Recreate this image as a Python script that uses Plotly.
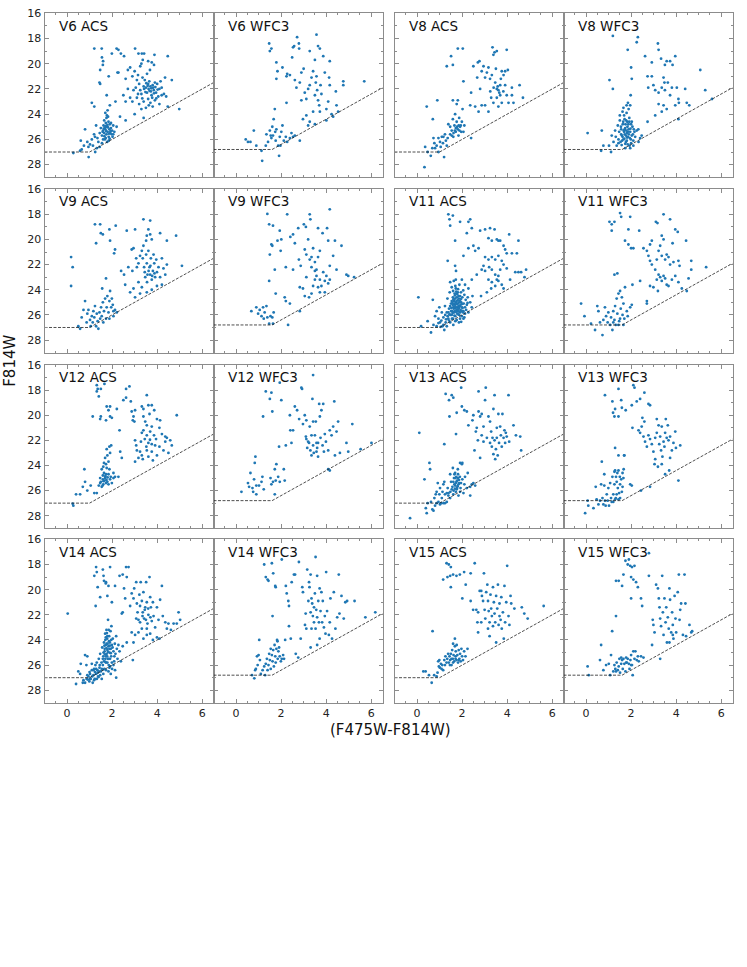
import plotly.graph_objects as go

# ---------------- data (colour, magnitude) ----------------
V6_ACS = [(1.21,18.8),(1.54,18.8),(1.55,19.5),(1.6,19.8),(1.59,20.1),(1.47,20.5),(1.44,21.5),(1.47,21.6),(1.85,21.0),
(2.2,18.8),(2.28,18.9),(1.99,19.2),(2.39,19.2),(2.53,19.4),(3.02,18.8),(3.17,19.2),(3.32,19.2),(3.42,19.2),(3.88,19.3),(4.47,19.4),(3.36,19.7),(3.76,19.9),(3.86,20.1),(2.24,20.7),(2.28,20.7),(3.6,19.8),(3.3,20.0),
(2.6,21.2),(2.7,20.5),(2.8,20.3),(2.9,21.0),(3.0,20.6),(3.1,21.3),(3.15,20.9),(3.2,21.6),(3.25,22.1),(3.3,22.4),(3.35,21.1),(3.4,21.8),(3.42,22.0),(3.5,21.9),(3.55,22.3),(3.6,21.6),(3.62,22.0),(3.65,21.4),(3.7,21.8),(3.72,22.2),(3.75,22.5),(3.8,21.7),(3.82,21.9),(3.85,22.1),(3.9,21.5),(3.95,22.3),(4.0,21.6),(4.05,22.6),(4.1,22.0),(4.2,21.9),(4.3,22.4),(4.4,22.6),(4.65,21.3),(4.98,23.6),(4.47,23.4),(3.1,22.7),(3.2,23.2),(3.4,23.0),(3.5,23.5),(3.6,22.8),(3.7,23.1),(3.8,23.4),(3.9,22.9),(4.1,23.2),(2.8,22.7),(2.9,23.0),(2.6,23.0),(2.5,22.5),(3.0,24.0),(3.4,24.3),(2.7,22.0),(3.3,23.6),(4.2,22.5),(3.05,21.9),(3.15,22.4),(3.45,21.3),(3.55,20.8),(3.68,20.5),(3.25,20.2),(4.15,21.4),(4.35,21.1),(2.95,22.1),
(3.58,21.75),(3.66,22.15),(3.74,21.95),(3.86,22.35),(3.92,21.85),(3.48,22.25),(3.78,22.7),(3.96,22.75),(3.52,21.55),(3.34,22.75),(4.02,22.05),(3.63,23.3),
(1.76,22.5),(1.9,23.3),(2.15,23.0),(1.1,23.1),(1.21,23.4),(2.35,24.2),(2.6,24.5),(1.95,24.7),(2.05,25.6),(2.2,25.0),
(0.28,27.08),(0.58,26.9),(0.65,26.8),(0.61,26.1),(0.8,25.2),(0.9,26.2),(0.96,27.4),(0.95,26.6),(1.02,26.4),(1.24,25.8),(1.32,26.7),(1.39,26.2),(1.29,24.9),(0.75,26.5),(1.1,26.0),(1.15,26.5),(1.2,25.6),(1.35,25.9),(1.45,25.5),(1.5,25.1),(1.55,25.7),(1.6,25.3),(1.62,24.9),(1.65,25.5),(1.68,26.0),(1.7,25.2),(1.72,24.7),(1.75,25.6),(1.78,25.0),(1.8,25.4),(1.82,24.2),(1.85,25.8),(1.88,25.2),(1.9,24.8),(1.92,25.5),(1.95,25.1),(2.0,25.3),(2.05,24.9),(2.1,25.4),(1.7,23.9),(1.75,24.3),(1.8,23.7),(1.55,26.3),(1.45,26.6),(1.25,27.0),(1.6,26.0),(1.85,26.1),(1.65,24.5),(1.72,25.9),(1.58,25.4),(1.78,26.2),(1.68,25.1),(2.02,25.8),
(1.74,25.35),(1.82,25.05),(1.86,25.55),(1.66,25.75),(1.79,24.85),(1.93,25.35),(1.71,24.95),(1.84,24.6),(1.77,24.1),(1.98,25.6),(1.63,25.15),(1.89,25.95)]

V6_WFC3 = [(1.47,18.4),(1.5,19.0),(1.57,18.8),(1.79,19.9),(1.84,20.6),(1.79,21.2),(2.06,20.3),(2.27,20.8),(2.49,19.5),(2.53,18.7),(2.58,18.6),(2.71,17.9),(2.79,18.4),(2.8,18.8),(3.27,19.0),(3.5,19.7),(3.57,17.7),(3.64,18.6),(3.72,18.8),(3.87,19.4),(4.16,19.8),(4.13,21.1),(4.16,21.7),(4.76,21.4),(4.76,21.7),(5.69,21.4),(4.43,22.2),
(2.24,21.0),(2.39,20.9),(2.61,21.3),(2.68,21.9),(2.83,21.5),(2.9,20.7),(3.0,20.4),(3.05,22.3),(3.12,22.8),(3.2,22.0),(3.27,21.7),(3.35,21.1),(3.42,20.6),(3.5,22.5),(3.54,21.5),(3.57,21.0),(3.6,22.1),(3.64,22.9),(3.69,23.3),(3.75,21.7),(3.79,22.4),(3.94,20.7),(4.01,23.6),(4.09,23.0),(4.24,24.0),(4.31,24.2),(4.46,23.3),(4.53,23.8),(3.42,23.8),(3.12,24.1),(3.27,24.6),(3.72,23.8),(2.24,23.1),(2.9,22.9),(2.97,24.4),(3.2,24.9),(3.5,24.8),(4.01,24.5),
(0.43,26.0),(0.53,26.2),(0.64,26.2),(0.79,25.3),(0.9,26.5),(1.13,26.9),(1.16,27.7),(1.32,26.5),(1.35,25.6),(1.42,26.2),(1.5,25.3),(1.57,25.9),(1.61,25.0),(1.64,25.7),(1.67,24.4),(1.72,23.6),(1.76,26.1),(1.79,25.2),(1.87,26.5),(1.91,27.3),(1.94,25.8),(2.01,25.4),(2.06,24.9),(2.12,26.1),(2.21,25.8),(2.27,26.2),(2.39,25.9),(2.53,25.8),(2.61,25.7),(2.83,26.1),(2.46,25.5),(1.54,25.7),(1.74,25.4),(1.97,26.5)]

V8_ACS = [(0.33,28.2),(0.43,23.4),(0.7,24.4),(0.9,22.9),(1.32,20.2),(1.51,19.4),(1.59,20.1),(1.81,18.8),(2.03,18.8),(2.06,21.4),(2.4,22.3),(2.5,20.2),(2.7,19.9),(2.77,19.8),(2.95,20.2),(2.87,20.6),(2.67,21.1),(2.8,22.0),(3.02,21.1),(3.1,20.7),(3.17,20.3),(3.24,21.2),(3.35,18.7),(3.39,19.3),(3.44,19.1),(3.54,19.0),(3.98,18.9),(3.32,20.9),(3.47,21.5),(3.54,22.0),(3.61,22.1),(3.69,21.7),(3.76,20.6),(3.84,20.9),(3.91,20.6),(4.03,20.5),(3.69,22.5),(3.76,23.1),(3.61,23.4),(3.39,23.1),(3.29,22.7),(3.02,23.3),(3.17,23.8),(2.87,23.3),(2.73,23.8),(3.98,22.5),(4.06,23.1),(4.21,22.5),(4.28,23.1),(4.21,21.9),(4.55,21.7),(4.7,22.7),(3.91,21.7),(3.54,22.7),(2.36,23.3),(2.58,23.4),(2.4,25.9),
(3.58,21.8),(3.65,22.3),(3.4,21.9),(3.72,21.2),(3.5,20.4),(3.83,22.2),(3.25,22.2),
(0.36,26.6),(0.47,27.0),(0.61,27.3),(0.73,25.9),(0.8,26.7),(0.87,26.5),(0.95,27.0),(1.02,26.2),(1.1,25.8),(1.2,27.4),(1.24,25.6),(1.32,26.5),(1.36,25.9),(1.39,24.8),(1.47,25.6),(1.54,25.3),(1.59,24.4),(1.61,25.8),(1.66,24.9),(1.69,24.0),(1.72,25.4),(1.76,24.6),(1.81,25.2),(1.84,25.7),(1.87,24.3),(1.91,25.0),(1.96,25.4),(1.99,24.6),(2.02,23.6),(2.06,25.4),(2.1,24.9),(1.81,22.9),(1.59,22.9),(1.76,23.2),(1.17,25.8),(0.95,25.9),(0.77,26.3),(0.68,26.7),(1.54,25.7),(1.72,25.1),(1.47,25.0),
(1.78,25.0),(1.88,25.3),(1.68,25.3),(1.94,24.9),(1.85,24.9),(1.62,25.5),(1.28,26.1),(1.15,26.3),(1.05,26.6)]

V8_WFC3 = [(1.19,17.8),(2.3,17.9),(2.25,18.3),(1.85,18.9),(3.19,18.4),(3.22,18.9),(2.62,19.4),(2.92,19.9),(3.33,19.6),(3.5,20.1),(3.58,19.8),(3.73,19.8),(3.96,19.4),(3.84,20.1),(2.0,20.3),(1.04,21.3),(1.19,22.0),(2.03,21.2),(2.73,21.0),(2.92,21.0),(3.44,21.1),(3.48,21.5),(3.63,21.5),(2.76,21.9),(2.99,21.7),(3.07,22.1),(3.22,22.3),(3.36,21.9),(3.5,22.1),(3.73,22.5),(3.81,21.9),(4.03,21.9),(4.1,22.8),(4.4,22.0),(5.07,20.5),(5.29,22.1),(5.59,22.8),(3.22,23.2),(3.44,23.3),(3.58,23.6),(3.07,24.1),(3.36,23.8),(3.96,23.3),(4.47,23.1),(4.58,23.3),(4.12,23.1),(2.73,24.6),(2.32,25.2),(2.47,25.7),(4.1,24.4),
(0.07,25.5),(0.7,25.3),(0.77,26.5),(0.67,26.9),(1.11,27.0),(1.02,26.5),(1.14,25.7),(1.22,26.2),(1.29,25.3),(1.32,25.8),(1.36,26.5),(1.41,24.9),(1.44,26.0),(1.47,25.4),(1.5,24.5),(1.53,26.2),(1.56,25.2),(1.59,25.7),(1.62,23.8),(1.63,24.8),(1.66,26.0),(1.69,25.4),(1.71,24.4),(1.74,25.1),(1.77,26.2),(1.8,23.3),(1.81,25.5),(1.83,24.6),(1.86,25.8),(1.89,25.2),(1.92,24.3),(1.93,26.5),(1.96,25.4),(1.98,22.5),(1.99,26.0),(2.0,24.8),(2.03,25.7),(2.06,25.0),(2.1,26.1),(2.15,25.4),(2.18,25.8),(2.25,25.3),(2.33,26.2),(2.4,25.9),(1.96,26.7),(1.74,26.7),(1.89,23.6),(1.86,23.1),(1.66,23.5),(1.5,24.1),(1.96,23.3),(1.62,25.8),(1.77,25.7),(1.71,25.2),(1.86,25.4),(1.56,25.6),(1.81,26.1),(2.03,24.6),(1.44,26.3),(2.1,26.5),
(1.72,25.6),(1.79,25.3),(1.84,25.0),(1.9,25.6),(1.67,25.3),(1.75,24.8),(1.94,25.9),(1.6,26.1),(1.88,24.8),(1.97,25.15),(1.7,25.95),(1.82,25.85),(1.55,25.0),(2.08,25.6),(1.78,24.5),(1.65,24.6),(1.92,24.6),(2.12,25.2),(1.74,26.35),(1.58,26.45),(1.85,26.4),(2.0,26.3),(1.69,24.1),(1.8,23.9)]

V9_ACS = [(0.18,21.4),(0.25,22.2),(0.18,23.7),(1.24,18.8),(1.47,18.8),(1.29,20.3),(1.5,19.5),(1.59,19.6),(1.88,19.2),(1.91,20.1),(2.16,18.9),(2.13,20.8),(2.09,21.1),(2.65,19.3),(3.02,19.2),(3.39,18.4),(3.69,18.5),(3.61,19.2),(3.69,19.6),(3.54,19.7),(3.51,20.1),(3.76,20.0),(4.13,19.5),(4.43,20.1),(4.84,19.7),(5.1,22.1),(2.4,22.5),(2.53,22.8),(2.58,23.6),(2.87,20.8),(2.95,20.7),(3.07,21.5),(3.1,22.2),(3.17,21.9),(3.24,21.3),(3.32,20.9),(3.36,21.5),(3.39,20.5),(3.42,22.2),(3.47,23.0),(3.51,21.2),(3.54,21.9),(3.57,22.8),(3.61,20.9),(3.66,22.2),(3.69,22.8),(3.72,21.5),(3.76,23.2),(3.81,22.5),(3.84,21.2),(3.87,21.9),(3.91,23.0),(3.96,21.6),(3.99,22.6),(4.06,22.2),(4.13,23.0),(4.21,21.5),(4.28,22.3),(4.36,22.8),(4.43,22.0),(3.17,23.4),(3.32,23.8),(3.54,24.2),(3.76,24.0),(3.99,23.7),(4.21,23.6),(2.95,23.9),(2.8,24.2),(3.02,24.6),(3.24,24.3),(2.9,22.5),(2.72,22.2),
(3.62,22.5),(3.78,22.9),(3.7,22.1),(3.88,22.7),(3.55,23.4),(3.45,22.6),
(0.5,26.9),(0.58,27.1),(0.65,26.2),(0.73,25.6),(0.8,24.9),(0.87,26.6),(0.9,25.9),(0.95,25.6),(1.02,26.4),(1.05,26.9),(1.1,26.1),(1.14,26.6),(1.17,25.7),(1.21,26.2),(1.24,25.3),(1.29,26.9),(1.32,25.9),(1.36,26.5),(1.39,27.1),(1.44,25.8),(1.47,26.3),(1.51,25.4),(1.54,26.1),(1.59,25.0),(1.61,26.6),(1.64,25.7),(1.69,24.7),(1.73,26.3),(1.76,25.4),(1.79,24.5),(1.84,25.8),(1.88,24.9),(1.91,24.1),(1.96,25.4),(1.99,24.7),(2.03,25.2),(1.73,23.1),(1.56,23.9),(2.06,25.7),(2.13,25.6),(2.21,25.8),(1.88,26.3),(2.06,26.1)]

V9_WFC3 = [(1.39,17.97),(1.47,18.8),(1.64,18.9),(1.5,21.2),(1.47,23.3),(1.57,20.4),(1.61,20.5),(1.72,22.4),(1.76,24.3),(1.84,20.1),(1.94,19.3),(2.01,20.0),(1.98,20.9),(2.16,24.6),(2.21,24.9),(2.21,22.2),(2.27,18.0),(2.41,19.8),(2.53,19.6),(2.53,22.4),(2.61,20.3),(2.39,25.1),(2.76,19.1),(2.79,21.6),(2.87,22.1),(3.01,18.8),(3.1,19.0),(3.27,18.0),(3.3,18.4),(3.2,20.0),(3.05,20.8),(3.12,21.2),(3.27,21.6),(3.42,20.7),(3.5,21.8),(3.35,22.2),(3.57,22.4),(3.64,21.4),(3.72,20.9),(3.64,19.1),(3.84,19.5),(4.04,19.1),(4.16,17.6),(4.09,20.1),(4.39,20.1),(4.68,20.5),(4.31,21.3),(4.16,22.1),(4.46,22.4),(4.9,22.8),(4.98,22.9),(5.24,23.0),(2.83,23.8),(2.97,23.9),(3.05,24.5),(3.24,24.6),(3.35,24.3),(3.42,23.7),(3.5,23.2),(3.57,22.9),(3.72,23.2),(3.79,23.7),(3.87,22.6),(3.94,23.3),(4.01,22.9),(4.09,23.5),(4.16,23.2),(3.72,24.2),(3.94,24.2),(3.64,23.8),(3.12,23.0),(2.83,25.7),(2.31,26.8),(3.5,22.5),(3.35,21.4),
(0.68,25.7),(0.9,25.4),(0.98,25.9),(1.05,25.6),(1.13,26.1),(1.2,25.4),(1.23,26.3),(1.27,25.8),(1.35,25.3),(1.39,26.2),(1.47,26.7),(1.53,26.1),(1.61,26.2),(1.67,25.8),(1.64,26.7)]

V11_ACS = [(1.39,18.0),(1.59,18.1),(1.44,18.4),(1.47,18.9),(1.91,18.6),(2.28,18.6),(2.36,18.4),(2.43,19.1),(2.21,19.5),(1.69,20.1),(1.36,21.7),(2.06,21.3),(2.28,20.7),(2.5,20.5),(2.58,20.9),(2.73,20.7),(2.8,19.3),(3.02,19.2),(3.24,19.1),(3.44,19.2),(3.17,19.9),(3.32,20.1),(3.54,20.0),(3.61,20.1),(3.69,20.1),(4.09,19.6),(4.5,20.1),(3.84,20.5),(3.91,20.8),(3.02,21.4),(3.17,21.6),(3.32,21.4),(3.47,21.6),(3.61,21.3),(3.76,21.7),(3.98,21.1),(4.21,21.1),(4.43,21.1),(2.87,22.4),(3.02,22.5),(3.2,22.2),(3.32,22.4),(3.47,22.8),(3.61,22.9),(3.69,22.4),(3.84,22.0),(3.98,22.3),(4.13,23.2),(4.36,22.6),(4.5,22.6),(4.62,22.6),(4.84,22.4),(4.77,23.0),(3.17,23.2),(3.32,23.4),(3.47,23.7),(3.61,23.3),(3.76,23.6),(3.84,23.9),(2.84,24.5),(3.1,24.2),(3.29,23.9),(3.54,23.2),(2.95,22.1),(2.65,22.8),(2.43,23.2),(2.28,23.9),(2.13,23.6),(1.99,23.2),(1.69,22.1),(1.73,22.5),(0.06,24.6),(0.7,24.8),
(0.18,26.9),(0.47,26.5),(0.62,27.4),(0.73,26.8),(0.8,26.1),(0.87,25.7),(0.87,26.9),(0.95,26.3),(0.99,25.4),(1.02,26.6),(1.1,25.8),(1.13,26.9),(1.17,26.2),(1.21,27.2),(1.24,25.3),(1.27,26.6),(1.32,25.8),(1.35,24.7),(1.39,26.3),(1.42,25.5),(1.45,24.2),(1.48,26.0),(1.51,25.1),(1.54,23.8),(1.56,25.7),(1.59,24.6),(1.6,26.3),(1.61,25.4),(1.63,23.3),(1.64,24.9),(1.66,25.8),(1.67,24.3),(1.69,25.2),(1.7,26.1),(1.72,23.9),(1.73,25.0),(1.75,25.6),(1.76,24.6),(1.78,25.4),(1.79,25.9),(1.81,24.2),(1.82,25.1),(1.84,25.5),(1.85,24.7),(1.87,26.0),(1.88,23.6),(1.9,25.3),(1.91,24.5),(1.93,25.6),(1.96,25.0),(1.99,25.4),(2.01,24.6),(2.04,25.8),(2.07,25.1),(2.1,24.4),(2.13,25.4),(2.16,24.8),(2.21,25.2),(2.25,24.6),(2.28,25.8),(2.36,25.0),(2.43,25.4),(2.46,24.5),(2.06,26.3),(1.91,26.3),(1.99,26.1),(1.54,26.0),(1.47,26.6),(1.61,26.8),(1.32,26.9),(1.17,26.8),(1.76,26.4),(1.51,25.7),(1.66,25.1),(1.72,25.4),(1.81,25.7),(1.87,25.0),(1.63,25.5),(1.75,24.9),(1.93,25.2),(1.59,25.2),(1.69,24.7),(1.84,25.3),(1.78,25.6),(1.67,25.7),(1.99,25.7),(1.47,25.3),(1.39,25.8),(1.91,25.8),(1.54,24.9),(2.06,25.7),(2.13,25.9),(1.84,24.5),(1.72,23.2),(1.47,23.4),
(1.7,25.45),(1.76,25.15),(1.8,24.85),(1.86,25.45),(1.74,25.75),(1.65,25.35),(1.82,25.95),(1.9,24.9),(1.62,24.75),(1.68,24.45),(1.78,24.35),(1.94,24.75),(1.98,25.15),(2.02,25.45),(1.58,25.85),(1.52,25.45),(1.44,25.95),(1.36,26.1),(1.29,26.35),(1.42,26.45),(1.55,26.3),(1.7,26.5),(1.86,26.6),(1.96,26.55),(2.1,26.2),(2.18,25.6),(2.24,25.05),(1.6,24.1),(1.7,23.7),(1.82,23.95),(1.95,24.2),(2.05,24.05),(1.08,26.45),(1.25,26.0),(0.95,26.65),(1.05,26.95),(1.66,26.05),(1.74,24.15),(1.88,25.75),(1.57,25.05)]

V11_WFC3 = [(1.04,18.6),(1.14,18.8),(1.26,18.6),(1.14,19.3),(1.51,17.9),(1.56,18.2),(1.96,18.2),(1.88,19.2),(2.36,19.3),(1.73,20.1),(1.88,20.4),(2.0,20.7),(2.1,20.7),(3.1,18.6),(3.17,18.7),(3.44,18.0),(3.73,18.4),(3.96,19.2),(4.07,19.4),(3.84,20.3),(3.36,19.7),(3.44,20.0),(2.92,20.1),(2.84,20.4),(2.55,20.7),(2.7,20.9),(2.77,21.3),(2.84,21.7),(2.92,22.0),(3.14,21.6),(3.22,20.9),(3.29,20.5),(3.36,21.3),(3.51,21.6),(3.58,21.2),(3.66,21.4),(3.73,22.0),(3.88,21.8),(4.1,21.7),(4.15,22.1),(4.44,20.1),(4.67,21.7),(4.67,22.4),(5.33,22.2),(3.07,22.4),(3.22,22.8),(3.29,23.0),(3.36,23.3),(3.44,22.9),(3.51,23.1),(3.58,23.6),(3.66,23.7),(3.81,23.2),(3.96,22.9),(4.1,23.4),(4.25,23.9),(4.47,24.1),(4.55,23.1),(2.84,23.7),(2.99,23.8),(3.14,23.2),(2.4,23.3),(2.06,23.6),(1.26,22.8),(1.39,22.7),(2.7,24.9),(2.7,25.1),(3.19,24.1),
(-0.22,25.1),(-0.07,26.1),(0.22,26.7),(0.4,27.2),(0.5,25.3),(0.55,25.7),(0.62,26.6),(0.73,27.6),(0.77,26.4),(0.84,25.4),(0.89,26.1),(0.96,26.6),(0.99,25.8),(1.07,26.8),(1.11,26.2),(1.17,27.2),(1.21,25.7),(1.26,26.4),(1.29,25.3),(1.32,26.8),(1.36,24.7),(1.39,25.9),(1.44,24.3),(1.47,26.5),(1.51,24.1),(1.54,25.5),(1.59,24.6),(1.62,26.0),(1.66,25.1),(1.7,26.3),(1.73,23.8),(1.81,25.7),(1.85,26.1),(1.96,25.4),(2.03,25.2),(1.44,26.8),(1.51,26.3),(1.66,26.8),(1.21,26.6)]

V12_ACS = [(0.25,27.05),(0.28,27.2),(0.4,26.3),(0.58,26.3),(0.7,25.7),(0.77,24.3),(0.8,25.3),(0.9,26.0),(1.05,25.6),(1.14,20.1),(1.21,26.2),(1.32,26.2),(1.32,17.6),(1.36,17.9),(1.32,18.1),(1.41,18.5),(1.47,20.3),(1.5,20.1),(1.5,17.9),(1.66,17.5),(1.73,20.4),(1.76,19.3),(1.84,19.6),(1.91,19.3),(1.91,20.1),(1.99,20.2),(2.21,19.5),(2.33,21.2),(2.62,17.9),(2.77,17.7),(2.62,18.6),(2.5,18.8),(2.83,18.9),(2.87,19.7),(2.95,20.1),(2.92,20.4),(3.02,19.6),(2.99,20.5),(3.32,19.3),(3.39,19.5),(3.54,18.4),(3.61,19.2),(3.76,19.2),(3.87,19.6),(3.66,19.9),(3.39,20.1),(3.47,20.5),(3.54,20.8),(3.39,21.2),(3.32,21.4),(3.54,21.6),(3.69,21.3),(3.76,20.9),(3.99,20.3),(4.13,20.4),(4.1,21.0),(4.21,21.5),(4.36,21.7),(4.43,21.8),(4.58,22.0),(4.65,22.4),(4.87,20.0),(3.02,22.0),(3.07,22.4),(3.1,22.8),(3.24,22.9),(3.32,23.2),(3.17,23.4),(3.02,23.7),(3.36,23.5),(3.54,22.8),(3.61,23.3),(3.76,22.9),(3.81,23.6),(3.91,22.4),(3.99,23.2),(4.1,22.5),(4.28,22.8),(4.36,22.1),(4.5,23.0),(3.61,22.2),(3.76,22.3),(2.36,22.9),(2.43,23.4),
(3.45,21.9),(3.68,21.95),(3.86,21.6),(3.52,22.5),(3.95,21.9),(3.28,22.1),
(1.76,22.7),(1.88,22.5),(1.96,22.4),(1.79,23.2),(1.91,23.0),(1.69,23.4),(1.84,23.7),(1.73,23.9),(1.61,24.1),(1.76,24.2),(1.88,24.3),(1.54,24.3),(1.64,24.6),(1.73,24.7),(1.84,24.7),(1.94,24.9),(2.06,25.0),(2.13,24.9),(1.47,25.0),(1.59,25.1),(1.69,25.0),(1.79,25.3),(1.91,25.1),(1.47,25.4),(1.61,25.5),(1.73,25.4),(1.54,25.7),(1.41,25.6),(1.84,25.5),(1.99,25.4),(2.28,24.9),(1.59,24.8),(1.67,25.2),(1.5,25.3),(2.06,24.6),(1.64,23.8),
(1.7,24.85),(1.8,24.95),(1.62,25.25),(1.75,25.15),(1.58,25.6)]

V12_WFC3 = [(0.24,26.1),(0.53,25.4),(0.58,25.7),(0.64,24.6),(0.73,25.8),(0.76,26.1),(0.8,25.1),(0.83,23.8),(0.86,23.3),(0.9,25.6),(0.9,26.3),(1.02,25.6),(1.13,25.3),(1.2,20.1),(1.17,24.9),(1.23,25.9),(1.32,18.1),(1.5,18.7),(1.57,18.2),(1.53,25.0),(1.57,25.5),(1.61,19.7),(1.64,25.3),(1.72,24.3),(1.72,26.3),(1.76,25.2),(1.79,23.9),(1.87,24.9),(1.91,22.5),(1.94,17.4),(1.94,25.3),(2.01,18.8),(2.12,24.3),(2.16,25.2),(2.21,22.4),(2.39,20.0),(2.41,21.2),(2.46,22.2),(2.53,21.2),(2.61,19.3),(2.71,19.6),(2.8,20.3),(2.9,17.8),(2.93,17.9),(2.97,20.7),(3.05,20.0),(3.1,21.7),(3.12,21.9),(3.16,22.6),(3.2,22.1),(3.24,22.2),(3.27,20.9),(3.3,22.8),(3.35,21.6),(3.39,18.7),(3.42,22.4),(3.45,23.0),(3.5,21.6),(3.54,20.5),(3.57,22.2),(3.6,22.6),(3.64,23.3),(3.69,19.1),(3.72,20.1),(3.75,21.8),(3.79,19.6),(3.84,22.4),(3.87,19.1),(3.9,22.9),(3.94,21.5),(3.99,22.1),(4.09,22.8),(4.16,21.2),(4.24,21.6),(4.31,20.9),(4.36,18.9),(4.39,23.2),(4.46,21.3),(4.53,20.5),(4.61,23.0),(4.9,22.2),(4.98,22.9),(5.16,20.7),(4.09,24.3),(4.16,24.4),(3.42,16.8),(3.42,20.5),(3.12,20.4),(5.53,22.7),(6.01,22.2),(3.57,22.9),(3.35,23.2),(3.64,22.2)]

V13_ACS = [(-0.31,28.2),(0.1,21.4),(0.33,25.1),(0.39,27.4),(0.43,27.8),(0.47,27.0),(0.55,23.8),(0.58,24.3),(0.62,26.9),(0.68,27.5),(0.73,27.6),(0.77,26.6),(0.8,27.2),(0.83,26.3),(0.87,26.1),(0.92,25.4),(0.95,26.9),(0.99,26.3),(1.02,25.8),(1.07,27.0),(1.1,26.6),(1.13,26.1),(1.17,25.5),(1.21,25.3),(1.21,22.3),(1.24,26.3),(1.27,18.3),(1.32,26.9),(1.36,25.8),(1.39,26.4),(1.42,18.8),(1.44,20.1),(1.47,24.7),(1.48,26.1),(1.51,25.3),(1.54,18.4),(1.57,25.7),(1.59,24.2),(1.61,18.6),(1.61,26.3),(1.64,25.0),(1.66,25.5),(1.69,24.6),(1.72,26.1),(1.73,21.5),(1.75,25.3),(1.76,19.8),(1.78,25.8),(1.81,24.3),(1.84,26.4),(1.87,25.4),(1.9,24.9),(1.91,23.8),(1.93,25.8),(1.96,17.8),(1.99,19.3),(2.01,25.1),(2.01,23.8),(2.06,26.2),(2.1,25.5),(2.13,24.9),(2.1,19.6),(2.21,19.7),(2.21,25.8),(2.25,24.6),(2.28,20.8),(2.36,26.4),(2.43,25.5),(2.46,20.4),(2.5,20.0),(2.55,22.8),(2.58,25.6),(2.61,21.3),(2.65,21.0),(2.7,22.0),(2.73,18.1),(2.73,19.7),(2.8,20.1),(2.8,23.4),(2.87,19.9),(2.87,21.6),(2.95,20.9),(2.95,22.1),(3.02,18.8),(3.05,17.8),(3.1,21.8),(3.17,20.1),(3.24,20.5),(3.24,22.2),(3.29,21.3),(3.32,22.5),(3.35,21.8),(3.39,19.5),(3.39,23.1),(3.44,22.0),(3.44,18.4),(3.47,23.5),(3.5,22.7),(3.54,21.0),(3.54,21.8),(3.58,23.2),(3.61,19.9),(3.64,22.2),(3.69,20.9),(3.72,21.6),(3.76,22.5),(3.79,19.9),(3.84,21.8),(3.88,21.2),(3.91,22.2),(3.94,21.4),(3.98,21.7),(4.06,18.4),(4.09,22.1),(4.28,20.8),(4.39,21.6),(4.58,21.7),(4.62,22.8),(2.5,25.4),(2.36,25.7),(1.99,23.9),(1.84,25.5),(1.69,25.6),(1.61,25.3),(1.76,25.9),(1.91,26.1),(1.54,25.9),(1.47,26.6),(1.17,27.0),(1.32,26.2),(1.24,27.0),(1.02,27.1),(0.87,27.0),(1.81,25.0),(1.66,24.7),(1.72,25.4),
(1.78,25.2),(1.86,25.15),(1.7,25.0),(1.82,24.7),(1.74,24.9),(1.68,25.85),(1.95,25.4),(1.8,25.65),(1.62,26.0),(1.4,26.2)]

V13_WFC3 = [(-0.04,27.8),(0.07,26.8),(0.1,27.2),(0.33,27.4),(0.43,25.7),(0.47,26.7),(0.55,27.1),(0.62,26.8),(0.67,25.5),(0.7,23.7),(0.73,26.6),(0.77,27.1),(0.81,25.6),(0.81,24.7),(0.84,26.8),(0.87,27.2),(0.92,26.3),(0.96,26.8),(0.99,25.8),(1.02,27.2),(1.07,25.4),(1.11,26.6),(1.14,26.9),(1.17,24.9),(1.21,26.3),(1.26,24.5),(1.26,25.5),(1.29,24.4),(1.32,26.6),(1.33,24.9),(1.36,25.3),(1.39,24.6),(1.41,25.8),(1.44,24.4),(1.47,26.2),(1.5,24.9),(1.51,25.5),(1.56,25.1),(1.59,26.1),(1.62,25.7),(1.66,25.0),(1.51,26.6),(1.44,26.7),(1.29,26.7),(1.21,26.9),(1.36,26.3),(1.29,22.6),(1.7,23.2),(1.96,25.5),(2.03,25.6),(2.44,26.0),(2.84,25.7),(3.04,23.9),(3.07,23.5),(3.19,24.1),(3.36,23.9),(3.51,24.7),(3.69,24.4),(4.1,25.2),
(0.84,18.4),(1.17,18.9),(1.29,19.5),(1.44,17.9),(1.56,18.8),(1.59,19.4),(1.2,19.8),(1.26,20.1),(1.44,20.1),(1.76,19.6),(2.03,19.2),(2.1,17.6),(2.15,17.8),(2.25,18.9),(2.4,18.7),(2.59,18.2),(2.77,19.1),(2.84,19.2),(2.5,20.2),(2.59,20.5),(2.06,21.0),(2.33,21.2),(2.4,21.4),(2.47,20.9),(2.55,21.7),(2.62,22.1),(2.7,22.5),(2.77,21.6),(2.84,21.9),(2.92,22.3),(2.99,22.9),(3.07,21.8),(3.14,21.4),(3.14,20.3),(3.22,20.8),(3.25,22.3),(3.29,21.7),(3.33,22.8),(3.36,20.9),(3.39,23.3),(3.44,22.1),(3.48,22.5),(3.51,21.4),(3.54,20.3),(3.58,21.8),(3.63,20.8),(3.66,22.0),(3.73,21.7),(3.81,22.8),(3.88,22.2),(3.96,21.3),(3.99,22.6),(4.18,22.4),(3.73,23.4),(1.44,23.2),(1.69,23.2),(1.67,24.3),(1.62,24.6)]

V14_ACS = [(0.03,21.9),(1.29,18.2),(1.32,18.6),(1.21,18.9),(1.36,19.8),(1.27,21.3),(1.47,20.6),(1.59,18.4),(1.64,19.3),(1.73,19.4),(1.79,20.5),(1.84,19.7),(1.91,18.2),(1.99,21.0),(2.13,19.7),(2.33,18.9),(2.43,21.9),(2.47,18.8),(2.62,18.2),(2.73,18.2),(2.65,19.0),(2.53,19.9),(2.58,20.7),(2.8,21.3),(2.87,20.3),(2.95,20.7),(2.98,19.9),(3.07,19.4),(3.1,21.1),(3.13,21.8),(3.17,22.4),(3.21,20.4),(3.24,21.3),(3.27,19.4),(3.32,20.9),(3.36,21.8),(3.39,20.2),(3.42,22.3),(3.47,21.4),(3.51,19.4),(3.54,21.0),(3.57,22.7),(3.61,22.0),(3.66,19.0),(3.69,20.6),(3.72,21.4),(3.76,22.5),(3.81,21.0),(3.84,22.1),(3.91,23.0),(3.99,21.4),(4.06,22.4),(4.13,20.8),(4.21,19.7),(4.25,22.1),(4.36,22.6),(4.43,23.1),(4.5,22.7),(4.61,23.2),(4.73,22.7),(4.87,22.7),(4.95,21.8),(5.02,22.4),(3.02,23.6),(3.17,23.4),(3.32,23.1),(3.39,23.9),(3.54,23.6),(3.69,23.5),(3.81,24.0),(3.99,23.8),(4.1,23.9),(3.24,22.6),(3.07,22.3),(3.54,23.1),(2.87,23.4),(2.95,24.2),(2.65,24.2),(2.47,21.8),(2.92,25.6),
(3.45,21.6),(3.6,21.5),(3.35,22.1),(3.7,22.2),(3.5,22.4),(1.62,18.9),(1.72,19.5),
(0.4,27.5),(0.5,26.5),(0.58,26.7),(0.61,25.9),(0.7,27.4),(0.73,27.2),(0.8,27.4),(0.8,25.2),(0.87,27.1),(0.9,25.3),(0.95,26.9),(0.99,27.3),(1.02,26.7),(1.05,27.1),(1.1,26.4),(1.14,27.4),(1.17,26.8),(1.2,26.3),(1.23,27.1),(1.26,26.0),(1.29,26.7),(1.32,25.8),(1.35,26.4),(1.38,26.9),(1.41,25.5),(1.44,26.2),(1.47,25.1),(1.5,26.5),(1.53,25.8),(1.56,24.6),(1.59,26.0),(1.61,25.3),(1.64,24.2),(1.66,26.3),(1.67,24.9),(1.69,23.5),(1.7,25.5),(1.72,24.4),(1.73,25.8),(1.75,23.2),(1.76,25.1),(1.78,23.9),(1.79,24.8),(1.81,25.5),(1.82,22.4),(1.84,24.5),(1.85,26.0),(1.87,23.7),(1.88,25.0),(1.9,24.2),(1.91,25.5),(1.93,23.3),(1.94,24.7),(1.96,25.3),(1.97,22.9),(1.99,24.4),(2.0,26.3),(2.03,23.9),(2.06,24.9),(2.09,25.7),(2.12,24.3),(2.15,25.1),(2.18,23.7),(2.21,24.7),(2.24,25.5),(2.28,24.4),(2.33,24.9),(2.39,25.7),(2.47,24.5),(1.73,26.4),(1.61,26.7),(1.47,26.8),(1.84,26.5),(1.94,26.7),(2.13,26.4),(2.18,27.0),(1.99,25.8),(1.79,25.8),(1.64,25.7),(1.73,25.3),(1.85,25.5),(1.67,24.7),(1.76,24.3),(1.88,24.7),(1.7,24.0),(1.79,23.7),(1.59,25.5),(1.54,26.3),(1.41,26.5),(1.29,26.3),(1.17,26.4),(1.02,27.1),(0.9,26.8),(1.32,27.1),(1.54,27.1),(0.86,26.0),(1.1,25.9),(1.91,26.1),(2.06,26.0),
(1.75,24.65),(1.82,24.95),(1.68,25.15),(1.9,24.45),(1.78,25.3),(1.86,24.1),(1.72,23.8),(1.96,24.0),(1.66,24.45),(1.8,24.3),(1.62,25.0),(1.94,25.05),(2.02,24.6),(1.7,25.75),(1.58,26.35),(1.45,26.0),(1.36,26.6),(1.24,26.55),(1.12,26.9),(1.0,26.55),(0.92,27.15),(1.2,27.2),(1.4,26.95),(1.88,26.2),(2.1,25.3),(1.77,23.45),(1.85,23.2)]

V14_WFC3 = [(0.71,26.8),(0.81,27.05),(0.85,26.4),(0.88,26.3),(0.96,26.0),(0.93,25.3),(1.0,25.2),(1.03,24.0),(1.06,25.6),(1.1,26.7),(1.18,26.4),(1.25,26.1),(1.29,26.8),(1.32,25.9),(1.37,25.5),(1.4,26.4),(1.44,26.0),(1.47,25.1),(1.5,25.6),(1.54,24.7),(1.54,26.3),(1.59,25.2),(1.62,25.7),(1.65,24.8),(1.68,26.1),(1.71,24.4),(1.74,25.3),(1.76,25.8),(1.79,24.7),(1.82,24.0),(1.85,25.5),(1.88,24.9),(1.91,24.6),(1.94,25.3),(1.99,25.7),(2.03,25.5),(2.09,25.2),(2.13,25.5),(2.18,24.0),(1.84,24.1),
(1.25,18.0),(1.32,19.0),(1.4,19.2),(1.44,19.3),(1.59,17.9),(1.65,18.7),(1.74,19.7),(1.76,19.8),(1.62,22.1),(2.03,17.6),(2.21,19.7),(2.25,20.3),(2.32,20.9),(2.35,21.3),(2.35,22.9),(2.47,19.4),(2.57,18.8),(2.62,18.8),(2.79,17.8),(2.94,19.8),(2.97,20.2),(2.87,23.9),(3.06,22.8),(3.09,21.9),(3.12,23.1),(3.16,18.4),(3.21,20.9),(3.24,19.4),(3.26,19.8),(3.31,18.8),(3.31,21.8),(3.35,20.7),(3.35,23.1),(3.38,21.1),(3.41,22.1),(3.46,21.4),(3.46,22.6),(3.5,20.3),(3.53,17.4),(3.53,23.1),(3.56,21.6),(3.6,18.9),(3.6,22.2),(3.65,20.9),(3.68,22.6),(3.71,19.9),(3.71,23.9),(3.75,21.7),(3.79,20.2),(3.82,22.6),(3.85,20.9),(3.9,23.0),(3.94,22.1),(3.97,23.5),(4.0,18.6),(4.04,21.7),(4.12,23.6),(4.16,22.6),(4.19,20.7),(4.26,23.9),(4.34,20.2),(4.41,23.1),(4.49,22.2),(4.56,18.8),(4.59,21.9),(4.68,20.5),(4.78,22.3),(4.85,21.0),(4.93,20.9),(5.26,20.9),(5.74,22.2),(6.18,21.8),(2.65,25.1),(2.76,25.4),(3.6,24.4),(3.31,24.6),(2.43,23.9)]

V15_ACS = [(0.28,26.5),(0.38,26.5),(0.53,26.8),(0.65,27.4),(0.69,23.3),(0.76,26.8),(0.87,26.9),(0.91,26.6),(0.94,25.7),(0.97,26.1),(0.99,25.6),(1.01,26.2),(1.06,25.9),(1.09,26.3),(1.12,26.0),(1.16,26.4),(1.21,25.6),(1.24,26.0),(1.26,25.3),(1.31,25.8),(1.34,25.5),(1.38,25.1),(1.41,25.8),(1.44,25.3),(1.47,25.6),(1.5,25.1),(1.53,26.0),(1.56,24.8),(1.59,25.5),(1.6,24.3),(1.62,25.2),(1.65,25.7),(1.68,23.9),(1.68,24.5),(1.71,25.3),(1.72,24.9),(1.75,25.6),(1.76,24.4),(1.79,25.2),(1.82,25.8),(1.85,24.8),(1.88,25.5),(1.91,25.1),(1.94,25.7),(1.97,24.7),(2.0,25.3),(2.04,25.6),(2.09,24.9),(2.15,25.3),(2.24,24.7),(1.71,25.5),(1.53,25.5),(1.6,25.8),(1.85,25.6),(1.46,26.0),
(1.31,17.9),(1.41,18.0),(1.5,18.2),(1.16,19.2),(1.35,19.0),(1.47,18.9),(1.5,19.8),(1.6,18.8),(1.75,18.9),(1.9,18.8),(2.09,18.6),(2.16,19.6),(2.38,18.7),(2.56,17.9),(2.01,20.7),(2.38,20.9),(2.49,21.6),(2.63,21.6),(2.68,22.6),(2.71,23.4),(2.78,20.1),(2.85,20.1),(2.88,20.5),(2.93,20.9),(2.97,18.7),(3.0,21.6),(3.03,22.3),(3.07,20.2),(3.12,19.6),(3.15,20.9),(3.18,21.7),(3.22,22.6),(3.22,23.7),(3.26,20.4),(3.29,21.5),(3.32,22.1),(3.37,19.8),(3.37,22.9),(3.41,21.0),(3.44,21.9),(3.47,22.6),(3.51,20.5),(3.51,24.2),(3.56,21.5),(3.59,19.6),(3.62,22.8),(3.66,21.1),(3.66,22.1),(3.71,22.4),(3.74,20.6),(3.76,23.1),(3.81,21.8),(3.85,23.9),(3.88,19.7),(3.91,22.6),(3.96,21.0),(4.0,18.1),(4.06,22.1),(4.1,22.8),(4.15,20.5),(4.18,21.1),(4.32,21.5),(4.65,21.4),(4.76,21.9),(4.91,22.3),(5.62,21.3),(2.85,22.6),(3.15,23.1),(2.71,21.8)]

V15_WFC3 = [(0.07,26.1),(0.12,26.8),(0.67,24.4),(0.62,25.6),(0.77,26.4),(0.89,26.0),(1.01,25.9),(1.07,26.8),(1.11,25.2),(1.16,23.3),(1.21,26.5),(1.26,26.0),(1.3,26.3),(1.33,26.5),(1.36,25.8),(1.41,26.4),(1.45,26.1),(1.48,25.5),(1.51,26.6),(1.56,25.4),(1.56,25.9),(1.6,25.6),(1.63,26.3),(1.66,25.5),(1.7,25.9),(1.75,26.5),(1.78,25.4),(1.81,25.8),(1.85,25.5),(1.9,25.9),(1.93,26.3),(1.97,25.6),(2.0,25.2),(2.04,26.0),(2.07,26.8),(2.1,24.9),(2.15,25.5),(2.19,24.9),(2.25,25.6),(2.3,25.3),(2.34,25.7),(2.44,25.3),(2.55,25.4),(1.78,25.8),(2.0,26.0),
(1.33,19.3),(1.45,19.3),(1.33,22.1),(1.66,18.8),(1.6,19.7),(1.75,17.7),(1.85,18.0),(1.9,17.6),(1.96,18.1),(2.04,18.2),(2.15,18.1),(2.0,19.0),(2.1,19.2),(2.22,19.4),(2.3,19.8),(2.44,20.7),(2.49,21.3),(2.0,20.7),(2.79,17.1),(2.79,18.9),(2.96,22.4),(2.99,22.8),(3.04,23.4),(2.93,24.4),(3.11,19.6),(3.19,19.9),(3.23,20.7),(3.26,21.4),(3.29,22.3),(3.33,22.9),(3.38,18.9),(3.41,21.8),(3.44,23.6),(3.48,20.7),(3.53,22.6),(3.56,21.4),(3.59,24.2),(3.63,22.2),(3.67,23.1),(3.7,19.9),(3.73,20.8),(3.78,23.4),(3.82,21.8),(3.85,22.8),(3.88,23.9),(3.93,20.5),(3.97,22.3),(4.0,23.4),(4.07,20.2),(4.12,18.8),(4.15,22.4),(4.18,21.6),(4.22,21.1),(4.3,23.6),(4.37,18.8),(4.41,21.1),(4.44,23.7),(4.59,22.8),(4.67,23.4),(4.71,23.3),(3.29,25.5),(3.7,24.2),(3.85,23.6)]

# completeness limits (dashed lines)
ACS_LIMIT_X = [-1.0, 1.0, 6.5]
ACS_LIMIT_Y = [27.0, 27.0, 21.5]
WFC3_LIMIT_X = [-1.0, 1.6, 6.5]
WFC3_LIMIT_Y = [26.8, 26.8, 21.9]

X_TICKS = [0, 2, 4, 6]
Y_TICKS = [16, 18, 20, 22, 24, 26, 28]
X_RANGE = [-1.0, 6.5]
Y_RANGE = [29.0, 16.0]

PANELS = [
    ("V6 ACS", V6_ACS, "ACS"), ("V6 WFC3", V6_WFC3, "WFC3"), ("V8 ACS", V8_ACS, "ACS"), ("V8 WFC3", V8_WFC3, "WFC3"),
    ("V9 ACS", V9_ACS, "ACS"), ("V9 WFC3", V9_WFC3, "WFC3"), ("V11 ACS", V11_ACS, "ACS"), ("V11 WFC3", V11_WFC3, "WFC3"),
    ("V12 ACS", V12_ACS, "ACS"), ("V12 WFC3", V12_WFC3, "WFC3"), ("V13 ACS", V13_ACS, "ACS"), ("V13 WFC3", V13_WFC3, "WFC3"),
    ("V14 ACS", V14_ACS, "ACS"), ("V14 WFC3", V14_WFC3, "WFC3"), ("V15 ACS", V15_ACS, "ACS"), ("V15 WFC3", V15_WFC3, "WFC3"),
]

# ---------------- layout geometry (pixels) ----------------
W, H = 747, 967
COL_PX = [(44.5, 213.5), (213.5, 382.5), (394.5, 563.5), (563.5, 732.5)]
ROW_PX = [(7.3, 172.3), (184.3, 348.8), (361.3, 525.5), (536.7, 701.2)]

FONT = "DejaVu Sans"
FRAME = "#8c8c8c"
BLUE = "#1f77b4"

fig = go.Figure()
layout = dict(
    width=W, height=H, margin=dict(l=0, r=0, t=0, b=0),
    paper_bgcolor="white", plot_bgcolor="white", showlegend=False,
    font=dict(family=FONT, size=11, color="#222222"),
)
annotations = []

for i, (name, pts, inst) in enumerate(PANELS):
    r, c = divmod(i, 4)
    k = i + 1
    xs = [p[0] for p in pts]
    ys = [p[1] for p in pts]
    xa = "x" if k == 1 else f"x{k}"
    ya = "y" if k == 1 else f"y{k}"
    fig.add_trace(go.Scatter(x=xs, y=ys, mode="markers", xaxis=xa, yaxis=ya,
                             marker=dict(color=BLUE, size=2.8, line=dict(width=0)), hoverinfo="skip"))
    lx, ly = (ACS_LIMIT_X, ACS_LIMIT_Y) if inst == "ACS" else (WFC3_LIMIT_X, WFC3_LIMIT_Y)
    fig.add_trace(go.Scatter(x=lx, y=ly, mode="lines", xaxis=xa, yaxis=ya,
                             line=dict(color="#222222", width=0.8, dash="3px,1.5px"), hoverinfo="skip"))
    x0, x1 = COL_PX[c]
    y0, y1 = ROW_PX[r]
    common = dict(showgrid=False, zeroline=False, showline=True, linecolor=FRAME, linewidth=1,
                  mirror="allticks", ticks="inside", tickcolor=FRAME, ticklen=4, tickwidth=1,
                  tickfont=dict(family=FONT, size=11, color="#222222"))
    layout["xaxis" if k == 1 else f"xaxis{k}"] = dict(
        common, domain=[x0 / W, x1 / W], anchor=ya, range=X_RANGE,
        tickvals=X_TICKS, ticktext=[str(v) for v in X_TICKS], showticklabels=(r == 3),
        minor=dict(dtick=0.5, tick0=0, ticks="inside", ticklen=2, tickcolor=FRAME))
    layout["yaxis" if k == 1 else f"yaxis{k}"] = dict(
        common, domain=[1 - y1 / H, 1 - y0 / H], anchor=xa, range=Y_RANGE,
        tickvals=Y_TICKS, ticktext=[str(v) for v in Y_TICKS], showticklabels=(c == 0),
        minor=dict(dtick=1, tick0=0, ticks="inside", ticklen=2, tickcolor=FRAME))
    annotations.append(dict(text=name, xref=f"{xa} domain", yref=f"{ya} domain", x=0.075, y=0.925,
                            xanchor="left", yanchor="middle", showarrow=False,
                            font=dict(family=FONT, size=13.5, color="#111111")))

annotations.append(dict(text="(F475W-F814W)", xref="paper", yref="paper", x=390 / W, y=1 - 729 / H,
                        xanchor="center", yanchor="middle", showarrow=False,
                        font=dict(family=FONT, size=15, color="#111111")))
annotations.append(dict(text="F814W", xref="paper", yref="paper", x=10 / W, y=1 - 357 / H,
                        xanchor="center", yanchor="middle", showarrow=False, textangle=-90,
                        font=dict(family=FONT, size=15, color="#111111")))
layout["annotations"] = annotations
fig.update_layout(**layout)

fig.write_html("out.html", config={"displayModeBar": False},
               post_script="document.body.style.margin='0';document.body.style.overflow='hidden';")
